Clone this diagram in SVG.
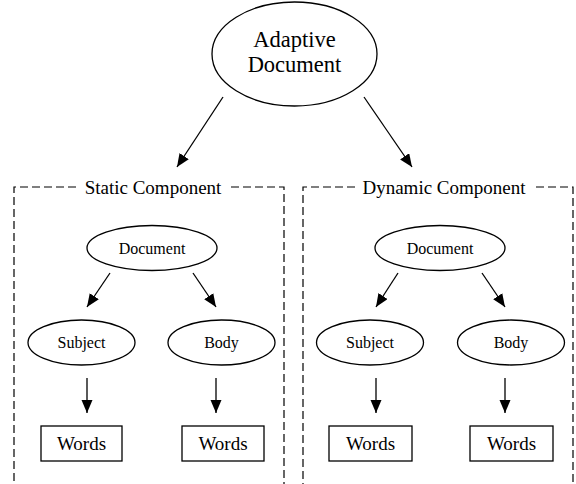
<svg xmlns="http://www.w3.org/2000/svg" width="576" height="484" viewBox="0 0 576 484">
<defs>
<marker id="ah" markerUnits="userSpaceOnUse" markerWidth="14" markerHeight="12" refX="13" refY="5.5" orient="auto">
<path d="M0,0 L13,5.5 L0,11 z" fill="#000"/>
</marker>
<style>
.n{fill:#fff;stroke:#000;stroke-width:1.3}
.t{font-family:"Liberation Serif","Times New Roman",serif;fill:#000;text-anchor:middle}
.big{font-size:22.5px}
.lab{font-size:19px}
.sm{font-size:16px}
.w{font-size:19px}
.e{fill:none;stroke:#000;stroke-width:1.3;marker-end:url(#ah)}
.cl{fill:none;stroke:#000;stroke-width:1.2;stroke-dasharray:8 4}
</style>
</defs>
<rect width="576" height="484" fill="#fff"/>

<g id="clusters">
<g id="static-cluster">
<path class="cl" d="M76,187 H14 V484"/>
<path class="cl" d="M231,187 H284 V484"/>
<text class="t lab" x="153" y="194">Static Component</text>
</g>
<g id="dynamic-cluster">
<path class="cl" d="M355,187 H303 V484"/>
<path class="cl" d="M536,187 H573 V484"/>
<text class="t lab" x="444" y="194">Dynamic Component</text>
</g>
</g>

<g id="connectors">
<line class="e" x1="223" y1="97" x2="177" y2="167"/>
<line class="e" x1="364" y1="97" x2="412" y2="167"/>
<line class="e" x1="110" y1="273" x2="87" y2="307"/>
<line class="e" x1="193" y1="273" x2="216" y2="307"/>
<line class="e" x1="398" y1="273" x2="376" y2="307"/>
<line class="e" x1="482" y1="273" x2="505" y2="307"/>
<line class="e" x1="87" y1="378" x2="87" y2="413"/>
<line class="e" x1="216" y1="378" x2="216" y2="413"/>
<line class="e" x1="376" y1="378" x2="376" y2="413"/>
<line class="e" x1="505" y1="378" x2="505" y2="413"/>
</g>

<g id="adaptive-document">
<ellipse class="n" cx="294.5" cy="54" rx="82.5" ry="52"/>
<text class="t big" x="294.5" y="47">Adaptive</text>
<text class="t big" x="294.5" y="72">Document</text>
</g>

<g id="s-document">
<ellipse class="n" cx="152" cy="248" rx="65" ry="22.5"/>
<text class="t sm" x="152" y="254">Document</text>
</g>
<g id="s-subject">
<ellipse class="n" cx="81.5" cy="342.5" rx="53.5" ry="22.5"/>
<text class="t sm" x="81.5" y="348">Subject</text>
</g>
<g id="s-body">
<ellipse class="n" cx="221.5" cy="342.5" rx="53.5" ry="22.5"/>
<text class="t sm" x="221.5" y="348">Body</text>
</g>
<g id="s-words1">
<rect class="n" x="41" y="426" width="81" height="35"/>
<text class="t w" x="81.5" y="450">Words</text>
</g>
<g id="s-words2">
<rect class="n" x="182" y="426" width="82" height="35"/>
<text class="t w" x="223" y="450">Words</text>
</g>

<g id="d-document">
<ellipse class="n" cx="440" cy="248" rx="65" ry="22.5"/>
<text class="t sm" x="440" y="254">Document</text>
</g>
<g id="d-subject">
<ellipse class="n" cx="370" cy="342.5" rx="53.5" ry="22.5"/>
<text class="t sm" x="370" y="348">Subject</text>
</g>
<g id="d-body">
<ellipse class="n" cx="511" cy="342.5" rx="53.5" ry="22.5"/>
<text class="t sm" x="511" y="348">Body</text>
</g>
<g id="d-words1">
<rect class="n" x="329" y="426" width="83" height="35"/>
<text class="t w" x="370.5" y="450">Words</text>
</g>
<g id="d-words2">
<rect class="n" x="470" y="426" width="83" height="35"/>
<text class="t w" x="511.5" y="450">Words</text>
</g>
</svg>
